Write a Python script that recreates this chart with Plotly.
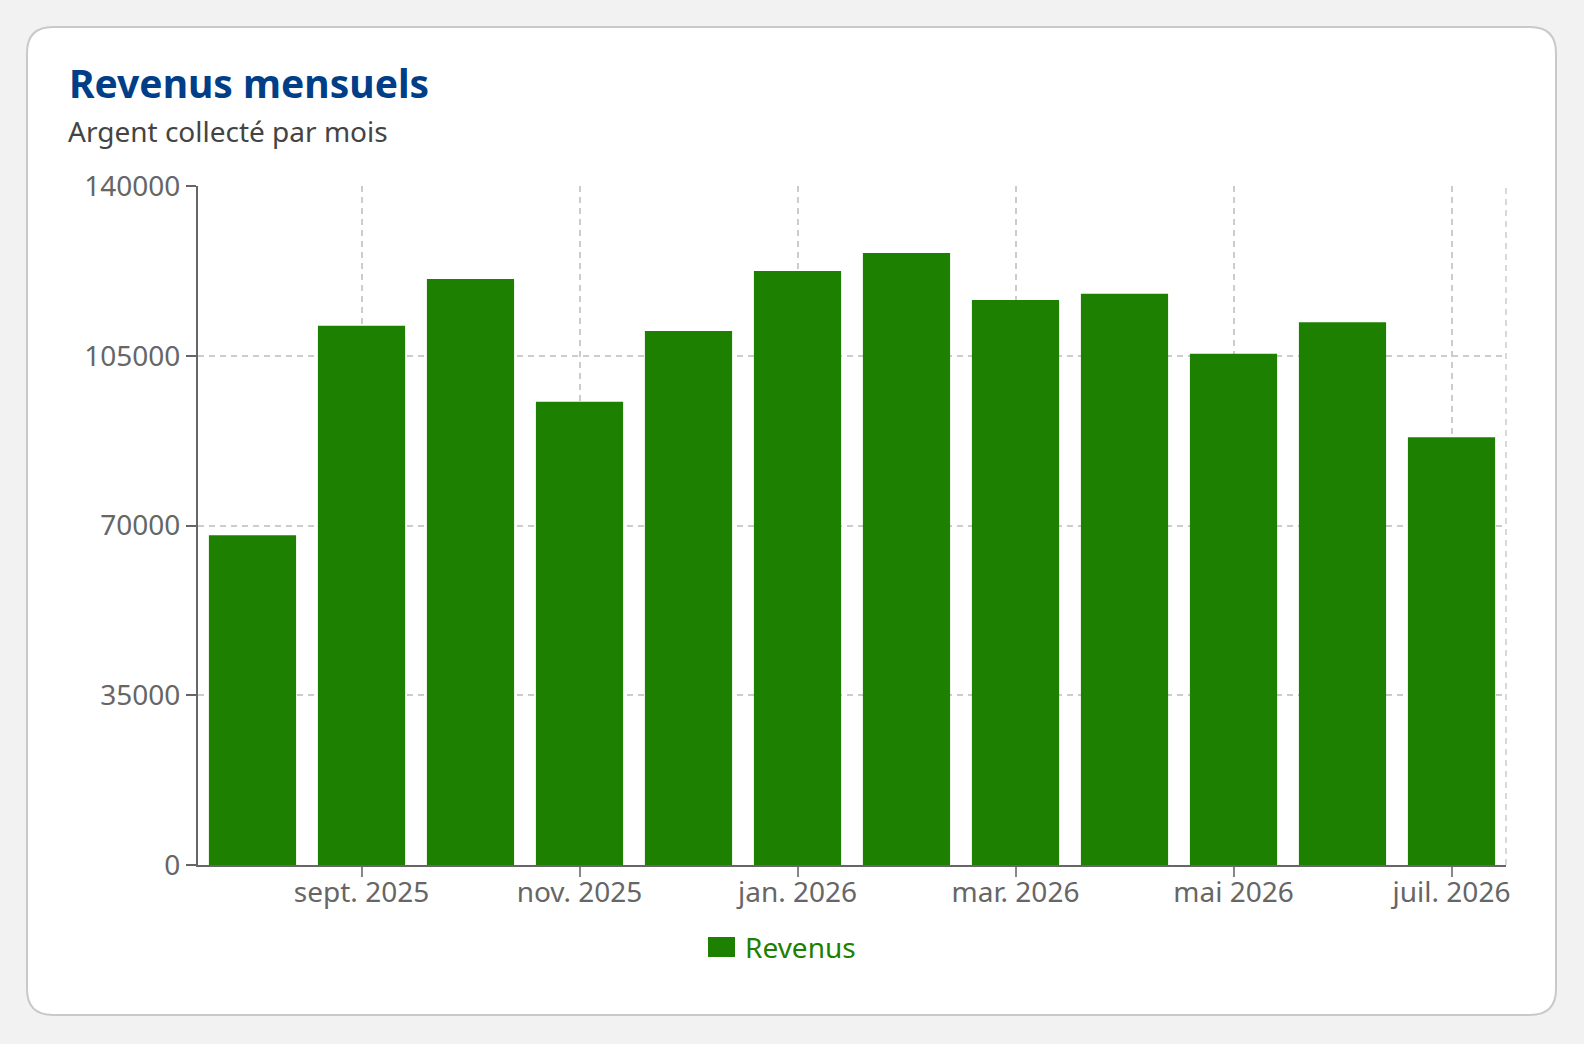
import plotly.graph_objects as go

# ---- data ----
months = ["2025-08", "2025-09", "2025-10", "2025-11", "2025-12", "2026-01",
          "2026-02", "2026-03", "2026-04", "2026-05", "2026-06", "2026-07"]
revenus = [68000, 111200, 120800, 95500, 110100, 122500, 126200, 116500, 117800, 105400, 111900, 88200]
x_tickvals = ["2025-09", "2025-11", "2026-01", "2026-03", "2026-05", "2026-07"]
x_ticktext = ["sept. 2025", "nov. 2025", "jan. 2026", "mar. 2026", "mai 2026", "juil. 2026"]
y_tickvals = [0, 35000, 70000, 105000, 140000]
series_name = "Revenus"
title_text = "Revenus mensuels"
subtitle_text = "Argent collecté par mois"

# ---- layout geometry (pixels) ----
W, H = 1584, 1044
L, R, T, B = 198, 1506, 186, 865

def px(x):
    return (x - L) / (R - L)

def py(y):
    return (B - y) / (B - T)

FONT = "Noto Sans"
GREEN = "#1e8000"

fig = go.Figure()
fig.add_trace(go.Bar(
    x=months, y=revenus, name=series_name,
    marker=dict(color=GREEN, line=dict(width=0)),
    showlegend=False,
))

# rounded card
cx0, cy0, cx1, cy1, rad = 27, 27, 1556, 1015, 26
card_path = (
    f"M {px(cx0+rad)},{py(cy0)} L {px(cx1-rad)},{py(cy0)} "
    f"Q {px(cx1)},{py(cy0)} {px(cx1)},{py(cy0+rad)} "
    f"L {px(cx1)},{py(cy1-rad)} "
    f"Q {px(cx1)},{py(cy1)} {px(cx1-rad)},{py(cy1)} "
    f"L {px(cx0+rad)},{py(cy1)} "
    f"Q {px(cx0)},{py(cy1)} {px(cx0)},{py(cy1-rad)} "
    f"L {px(cx0)},{py(cy0+rad)} "
    f"Q {px(cx0)},{py(cy0)} {px(cx0+rad)},{py(cy0)} Z"
)
shapes = [
    dict(type="path", xref="paper", yref="paper", path=card_path,
         fillcolor="white", line=dict(color="#c9c9c9", width=2), layer="below"),
    dict(type="line", xref="paper", yref="paper", x0=1, x1=1, y0=0, y1=1,
         line=dict(color="#cccccc", width=1.5, dash="6px,5px"), layer="below"),
    # legend swatch
    dict(type="rect", xref="paper", yref="paper", x0=px(708), x1=px(735), y0=py(957), y1=py(937),
         fillcolor=GREEN, line=dict(width=0)),
]

annotations = [
    dict(text=f"<b>{title_text}</b>", xref="paper", yref="paper", x=px(67), y=py(82),
         xanchor="left", yanchor="middle", showarrow=False,
         font=dict(family=FONT, size=39, color="#003f88")),
    dict(text=subtitle_text, xref="paper", yref="paper", x=px(66), y=py(131),
         xanchor="left", yanchor="middle", showarrow=False,
         font=dict(family=FONT, size=28, color="#444444")),
    dict(text=series_name, xref="paper", yref="paper", x=px(743), y=py(947),
         xanchor="left", yanchor="middle", showarrow=False,
         font=dict(family=FONT, size=28, color=GREEN)),
]

fig.update_layout(
    width=W, height=H,
    margin=dict(l=L, r=W - R, t=T, b=H - B, pad=0),
    paper_bgcolor="#f2f2f2",
    plot_bgcolor="rgba(0,0,0,0)",
    bargap=0.2,
    shapes=shapes,
    annotations=annotations,
    showlegend=False,
    font=dict(family=FONT, size=28, color="#666666"),
    xaxis=dict(
        type="category", categoryorder="array", categoryarray=months,
        range=[-0.5, len(months) - 0.5],
        tickvals=x_tickvals, ticktext=x_ticktext,
        showgrid=True, gridcolor="#cccccc", gridwidth=1.5, griddash="6px,5px",
        showline=True, linecolor="#666666", linewidth=2,
        ticks="outside", ticklen=10, tickwidth=1.5, tickcolor="#888888",
        tickfont=dict(family=FONT, size=28, color="#666666"),
        ticklabelstandoff=-9,
        zeroline=False,
    ),
    yaxis=dict(
        range=[0, 140000], tickvals=y_tickvals, tickformat="d",
        showgrid=True, gridcolor="#cccccc", gridwidth=1.5, griddash="6px,5px",
        showline=True, linecolor="#666666", linewidth=2,
        ticks="outside", ticklen=10, tickwidth=2, tickcolor="#666666",
        tickfont=dict(family=FONT, size=28, color="#666666"),
        zeroline=False,
    ),
)

fig.write_html("out.html")
